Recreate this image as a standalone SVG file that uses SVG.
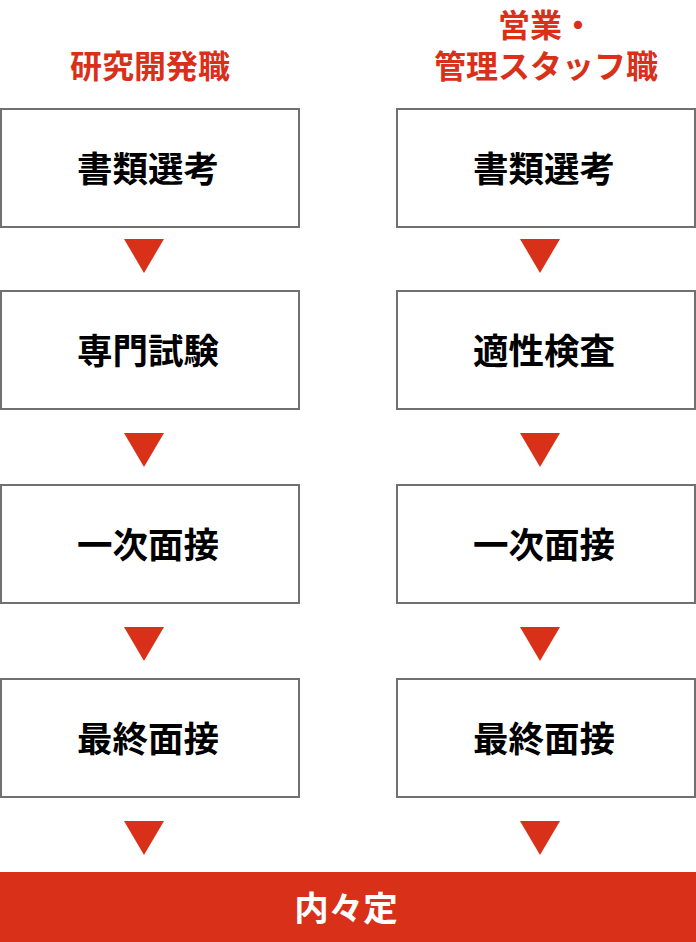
<svg xmlns="http://www.w3.org/2000/svg" width="696" height="942" viewBox="0 0 696 942">
<style>
.box{fill:#fff;stroke:#707070;stroke-width:2}
.bt{font-family:"Noto Sans CJK JP","Noto Sans CJK SC",sans-serif;font-weight:700;font-size:35.5px;fill:#000;text-anchor:middle}
.tt{font-family:"Noto Sans CJK JP","Noto Sans CJK SC",sans-serif;font-weight:700;font-size:32px;fill:#d93019;text-anchor:middle}
.arr{fill:#d93019}
.ft{font-family:"Noto Sans CJK JP","Noto Sans CJK SC",sans-serif;font-weight:700;font-size:34.5px;fill:#fff;text-anchor:middle}
</style>
<defs>
<polygon id="tri" points="-20,0 20,0 0,34"/>
</defs>
<g id="title-left"><text class="tt" x="150" y="78">研究開発職</text></g>
<g id="title-right"><text class="tt" x="546" y="37">営業・</text><text class="tt" x="546" y="78">管理スタッフ職</text></g>
<g id="L1"><rect class="box" x="1" y="109" width="298" height="118"/><text class="bt" x="148" y="182">書類選考</text></g>
<g id="L2"><rect class="box" x="1" y="291" width="298" height="118"/><text class="bt" x="148" y="364">専門試験</text></g>
<g id="L3"><rect class="box" x="1" y="485" width="298" height="118"/><text class="bt" x="148" y="558">一次面接</text></g>
<g id="L4"><rect class="box" x="1" y="679" width="298" height="118"/><text class="bt" x="148" y="752">最終面接</text></g>
<g id="R1"><rect class="box" x="397" y="109" width="298" height="118"/><text class="bt" x="544" y="182">書類選考</text></g>
<g id="R2"><rect class="box" x="397" y="291" width="298" height="118"/><text class="bt" x="544" y="364">適性検査</text></g>
<g id="R3"><rect class="box" x="397" y="485" width="298" height="118"/><text class="bt" x="544" y="558">一次面接</text></g>
<g id="R4"><rect class="box" x="397" y="679" width="298" height="118"/><text class="bt" x="544" y="752">最終面接</text></g>
<g id="connectors">
<use href="#tri" class="arr" x="144" y="239"/>
<use href="#tri" class="arr" x="144" y="433"/>
<use href="#tri" class="arr" x="144" y="627"/>
<use href="#tri" class="arr" x="144" y="821"/>
<use href="#tri" class="arr" x="540" y="239"/>
<use href="#tri" class="arr" x="540" y="433"/>
<use href="#tri" class="arr" x="540" y="627"/>
<use href="#tri" class="arr" x="540" y="821"/>
</g>
<g id="result"><rect x="0" y="872" width="696" height="70" fill="#d93019"/><text class="ft" x="346" y="921">内々定</text></g>
</svg>
